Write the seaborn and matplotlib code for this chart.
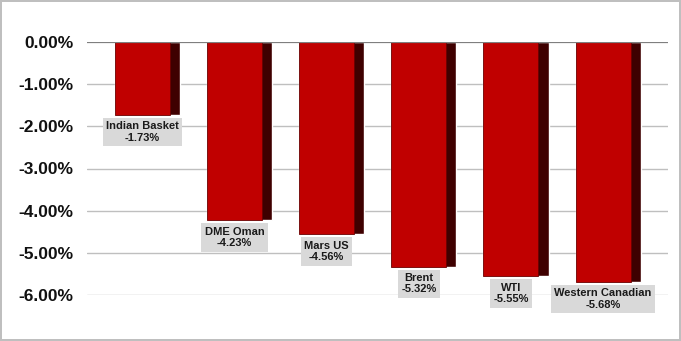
import matplotlib
matplotlib.use("Agg")
import matplotlib.pyplot as plt
import seaborn as sns
import pandas as pd
import numpy as np

categories = ["Indian Basket", "DME Oman", "Mars US", "Brent", "WTI", "Western Canadian"]
values = [-1.73, -4.23, -4.56, -5.32, -5.55, -5.68]
yticks = [0, -1, -2, -3, -4, -5, -6]

sns.set_theme(style="white")
plt.rcParams['font.family'] = ['Liberation Sans', 'DejaVu Sans']

df = pd.DataFrame({"cat": categories, "val": values})

fig = plt.figure(figsize=(6.81, 3.41), dpi=100)
fig.patch.set_facecolor("white")
fig.patch.set_edgecolor("#bfbfbf")
fig.patch.set_linewidth(1.5)
ax = fig.add_axes([87/681, 1-295.3/341, (668-87)/681, (295.3-41.7)/341])

full_w = 0.706
face_w = 0.597
# dark side (shadow)
sns.barplot(data=df, x="cat", y="val", color="#3f0000", width=full_w, saturation=1,
            ax=ax, errorbar=None, zorder=3)
n_dark = len(ax.patches)
# red face
sns.barplot(data=df, x="cat", y="val", color="#c00000", width=face_w, saturation=1,
            ax=ax, errorbar=None, zorder=4)
shift = (full_w - face_w) / 2
for p in ax.patches[n_dark:]:
    p.set_x(p.get_x() - shift)
    p.set_edgecolor("#6a0000")
    p.set_linewidth(0.6)

for i, (c, v) in enumerate(zip(categories, values)):
    xc = i - shift
    ax.text(xc, v - 0.15, f"{c}\n{v:.2f}%", ha="center", va="top", fontsize=8,
            fontweight="bold", color="#1a1a1a", linespacing=1.2, zorder=6, clip_on=False,
            bbox=dict(boxstyle="square,pad=0.3", facecolor="#d9d9d9", edgecolor="none"))

ax.set_xlim(-0.657, 5.65)
ax.set_ylim(-6, 0)
ax.set_yticks(yticks)
ax.set_yticklabels([f"{t:.2f}%" for t in yticks], fontsize=12.5, fontweight="bold", color="#111111")
ax.set_xticks([])
ax.set_xlabel("")
ax.set_ylabel("")
ax.tick_params(axis="y", length=0, pad=9.5)
for s in ax.spines.values():
    s.set_visible(False)
for t in yticks:
    if t == 0:
        ax.axhline(t, color="#7f7f7f", linewidth=1.6, zorder=5)
    else:
        ax.axhline(t, color="#bfbfbf", linewidth=1.0, zorder=1)
ax.set_facecolor("white")

fig.savefig("out.png", dpi=100)
